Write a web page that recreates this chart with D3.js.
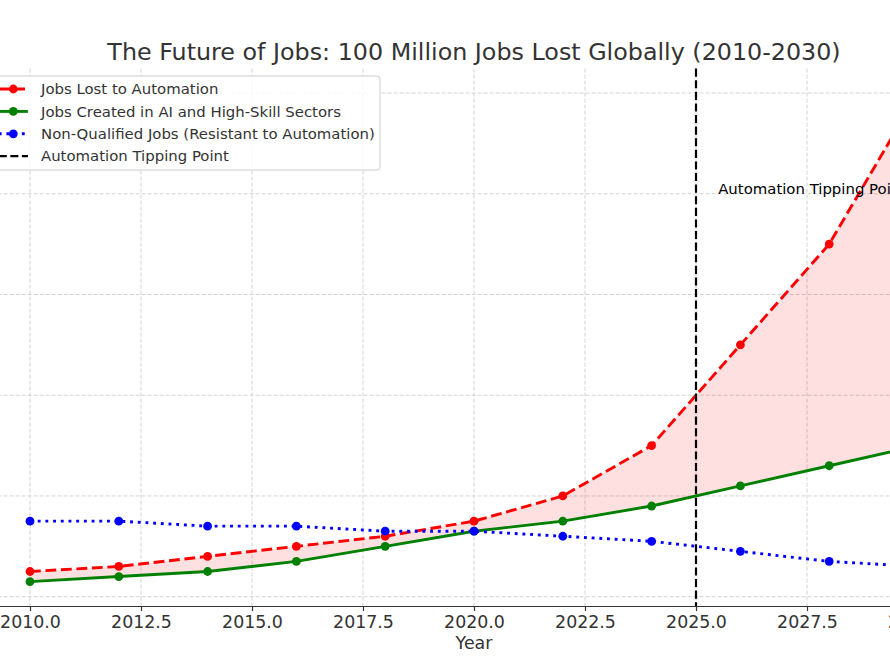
<!DOCTYPE html>
<html>
<head>
<meta charset="utf-8">
<script src="https://cdn.jsdelivr.net/npm/d3@7"></script>
<style>
  html, body { margin: 0; padding: 0; background: #fff; }
  svg { display: block; font-family: "DejaVu Sans", sans-serif; }
</style>
</head>
<body>
<svg id="chart" width="890" height="664"></svg>
<script>
// ---- data ----
const years = [2010, 2012, 2014, 2016, 2018, 2020, 2022, 2024, 2026, 2028, 2030];
const jobsLost = [5, 6, 8, 10, 12, 15, 20, 30, 50, 70, 100];
const jobsCreated = [3, 4, 5, 7, 10, 13, 15, 18, 22, 26, 30];
const nonQualified = [15, 15, 14, 14, 13, 13, 12, 11, 9, 7, 6];
const xTicks = [2010, 2012.5, 2015, 2017.5, 2020, 2022.5, 2025, 2027.5, 2030];
const yTicks = [0, 20, 40, 60, 80, 100];
const tippingYear = 2025;
const titleText = "The Future of Jobs: 100 Million Jobs Lost Globally (2010-2030)";
const seriesLabels = ["Jobs Lost to Automation", "Jobs Created in AI and High-Skill Sectors", "Non-Qualified Jobs (Resistant to Automation)", "Automation Tipping Point"];

// ---- layout ----
const svg = d3.select("#chart");
const pL = -14.4, pR = 962.4, pT = 68.6, pB = 606;
const x = d3.scaleLinear().domain([2009, 2031]).range([pL, pR]);
const y = d3.scaleLinear().domain([-1.85, 104.85]).range([pB, pT]);

const gridColor = "#d3d3d3";
// grid
svg.append("g").selectAll("line").data(xTicks).join("line")
  .attr("x1", d => x(d)).attr("x2", d => x(d))
  .attr("y1", pT).attr("y2", pB)
  .attr("stroke", gridColor).attr("stroke-width", 1).attr("stroke-dasharray", "4,2");
svg.append("g").selectAll("line").data(yTicks).join("line")
  .attr("x1", pL).attr("x2", pR)
  .attr("y1", d => y(d)).attr("y2", d => y(d))
  .attr("stroke", gridColor).attr("stroke-width", 1).attr("stroke-dasharray", "4,2");

// fill between
const data = years.map((yr, i) => ({yr, lost: jobsLost[i], created: jobsCreated[i], nq: nonQualified[i]}));
svg.append("path").datum(data)
  .attr("d", d3.area().x(d => x(d.yr)).y0(d => y(d.created)).y1(d => y(d.lost)))
  .attr("fill", "red").attr("fill-opacity", 0.12);

function drawSeries(key, color, dash, width) {
  svg.append("path").datum(data)
    .attr("d", d3.line().x(d => x(d.yr)).y(d => y(d[key])))
    .attr("fill", "none").attr("stroke", color).attr("stroke-width", width)
    .attr("stroke-dasharray", dash);
  svg.append("g").selectAll("circle").data(data).join("circle")
    .attr("cx", d => x(d.yr)).attr("cy", d => y(d[key])).attr("r", 4.4)
    .attr("fill", color);
}
drawSeries("lost", "red", "10.8,4.7", 2.9);
drawSeries("created", "green", null, 2.9);
drawSeries("nq", "blue", "2.9,4.8", 2.9);

// tipping point line
svg.append("line")
  .attr("x1", x(tippingYear)).attr("x2", x(tippingYear))
  .attr("y1", pT).attr("y2", pB)
  .attr("stroke", "black").attr("stroke-width", 2.2).attr("stroke-dasharray", "8.1,3.5");

svg.append("text").attr("x", x(tippingYear + 0.5)).attr("y", y(80))
  .attr("font-size", 14.9).attr("fill", "#000").text(seriesLabels[3]);

// x axis
const xAxis = d3.axisBottom(x).tickValues(xTicks).tickFormat(d3.format(".1f")).tickSizeOuter(0).tickSize(5).tickPadding(5);
const gx = svg.append("g").attr("transform", `translate(0,${pB})`).call(xAxis);
gx.select(".domain").attr("stroke", "#333").attr("stroke-width", 1.2);
gx.selectAll(".tick line").attr("stroke", "#333").attr("stroke-width", 1.2);
gx.selectAll(".tick text").attr("font-size", 17.4).attr("fill", "#333").attr("font-family", "DejaVu Sans");

svg.append("text").attr("x", (pL + pR) / 2).attr("y", 649)
  .attr("text-anchor", "middle").attr("font-size", 17.4).attr("fill", "#333").text("Year");

// title
svg.append("text").attr("x", (pL + pR) / 2).attr("y", 60)
  .attr("text-anchor", "middle").attr("font-size", 23.8).attr("fill", "#333").text(titleText);

// legend
const lg = svg.append("g");
const legX = -7, legY = 76, legW = 387, legH = 94;
lg.append("rect").attr("x", legX).attr("y", legY).attr("width", legW).attr("height", legH)
  .attr("rx", 3).attr("fill", "white").attr("fill-opacity", 0.8)
  .attr("stroke", "#cccccc").attr("stroke-width", 1);
const legItems = [
  {label: seriesLabels[0], color: "red", dash: "10.8,4.7", marker: true},
  {label: seriesLabels[1], color: "green", dash: null, marker: true},
  {label: seriesLabels[2], color: "blue", dash: "2.9,4.8", marker: true},
  {label: seriesLabels[3], color: "black", dash: "8.1,3.5", marker: false, width: 2.2}
];
legItems.forEach((it, i) => {
  const cy = 89 + i * 22.4;
  lg.append("line").attr("x1", -1.3).attr("x2", 27.9).attr("y1", cy).attr("y2", cy)
    .attr("stroke", it.color).attr("stroke-width", it.width || 2.9).attr("stroke-dasharray", it.dash);
  if (it.marker) lg.append("circle").attr("cx", 13.3).attr("cy", cy).attr("r", 4.4).attr("fill", it.color);
  lg.append("text").attr("x", 41).attr("y", cy + 5.2).attr("font-size", 14.9).attr("fill", "#333").text(it.label);
});
</script>
</body>
</html>
